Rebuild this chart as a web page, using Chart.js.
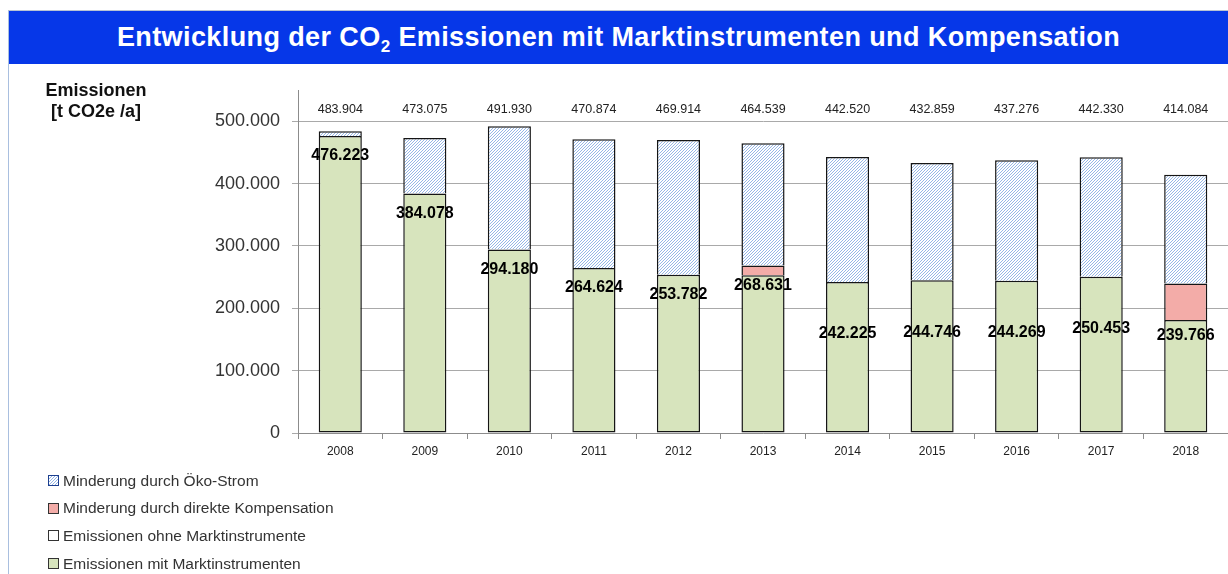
<!DOCTYPE html>
<html lang="de">
<head>
<meta charset="utf-8">
<title>Entwicklung der CO2 Emissionen</title>
<script src="https://cdn.jsdelivr.net/npm/chart.js@4.4.1/dist/chart.umd.min.js"></script>
<style>
    html, body { margin: 0; padding: 0; background: #fff; }
    body {
        width: 1228px; height: 574px; position: relative; overflow: hidden;
        font-family: "Liberation Sans", Arial, sans-serif;
    }
    #frame {
        position: absolute; left: 8px; top: 10px; right: 0; bottom: 0;
        border-left: 1px solid #a9bfdf; border-top: 1px solid #b9c3d3;
    }
    #title {
        position: absolute; left: 9px; top: 11px; right: 0; height: 53px;
        background: #0637e8; color: #fff; font-weight: bold; font-size: 27px;
        line-height: 53px; text-align: center; letter-spacing: 0.4px;
    }
    #title sub { font-size: 17px; vertical-align: -6px; line-height: 0; }
    #chart { position: absolute; left: 0; top: 0; }
    #yTitle {
        position: absolute; left: 30px; top: 80px; width: 132px;
        text-align: center; font-weight: bold; font-size: 18px; line-height: 21px; color: #111;
    }
    #legend { position: absolute; left: 48px; top: 467px; font-size: 15.5px; color: #333; }
    #legend div { height: 27.6px; line-height: 22px; display: flex; align-items: center; }
    #legend span.box {
        display: inline-block; width: 9px; height: 9px; margin-right: 4px;
        border: 1px solid #333; box-sizing: content-box;
    }
</style>
</head>
<body>
<div id="frame"></div>
<div id="title">Entwicklung der CO<sub>2</sub> Emissionen mit Marktinstrumenten und Kompensation</div>
<canvas id="chart" width="1228" height="574"></canvas>
<div id="yTitle">Emissionen<br>[t CO2e /a]</div>
<div id="legend"></div>

<script>
// =============================================
// DATA (t CO2e / a)
// =============================================

const jahre = ["2008", "2009", "2010", "2011", "2012", "2013", "2014", "2015", "2016", "2017", "2018"];

// Emissionen mit Marktinstrumenten (green)
const mitMarkt = [476223, 384078, 294180, 264624, 253782, 253000, 242225, 244746, 244269, 250453, 181000];

// Minderung durch direkte Kompensation (red)
const kompensation = [null, null, null, null, null, 15631, null, null, null, null, 58766];

// Minderung durch Öko-Strom (hatched)
const oekoStrom = [7681, 88997, 197750, 206250, 216132, 195908, 200295, 188113, 193007, 191877, 174318];

// Emissionen ohne Marktinstrumente (totals on top)
const ohneMarkt = [483904, 473075, 491930, 470874, 469914, 464539, 442520, 432859, 437276, 442330, 414084];

const yTicks = [0, 100000, 200000, 300000, 400000, 500000];

// =============================================
// HELPERS
// =============================================

function fmt(v) {
    return String(Math.round(v)).replace(/\B(?=(\d{3})+(?!\d))/g, ".");
}

// light blue diagonal hatch, drawn pixel by pixel
function makeHatch() {
    const c = document.createElement("canvas");
    c.width = 3;
    c.height = 3;
    const g = c.getContext("2d");
    g.fillStyle = "#ffffff";
    g.fillRect(0, 0, 3, 3);
    g.fillStyle = "#96b6e6";
    for (let i = 0; i < 3; i++) {
        g.fillRect(i, 2 - i, 1, 1);
    }
    return c;
}

const hatchCanvas = makeHatch();
const ctx = document.getElementById("chart").getContext("2d");
const hatch = ctx.createPattern(hatchCanvas, "repeat");

const GREEN = "#d7e4bd";
const PINK  = "#f3aca8";
const EDGE  = "#151515";

// =============================================
// VALUE LABELS PLUGIN
// =============================================

const valueLabels = {
    id: "valueLabels",
    afterDatasetsDraw(chart) {
        const c = chart.ctx;
        const xs = chart.scales.x;
        const ys = chart.scales.y;
        c.save();
        c.textAlign = "center";
        c.textBaseline = "middle";

        // totals row above the plot
        c.font = "12.5px 'Liberation Sans', Arial, sans-serif";
        c.fillStyle = "#222";
        ohneMarkt.forEach((v, i) => {
            c.fillText(fmt(v), xs.getPixelForValue(i), chart.chartArea.top + 20);
        });

        // bold labels: emissions incl. compensation
        c.font = "bold 16px 'Liberation Sans', Arial, sans-serif";
        c.fillStyle = "#000";
        mitMarkt.forEach((v, i) => {
            const val = v + (kompensation[i] || 0);
            const top = ys.getPixelForValue(val);
            const off = i < 6 ? 20 : 52;
            c.fillText(fmt(val), xs.getPixelForValue(i), top + off);
        });
        c.restore();
    }
};

// =============================================
// CHART
// =============================================

const datasets = [
    {
        label: "Emissionen mit Marktinstrumenten",
        data: mitMarkt,
        backgroundColor: GREEN,
        borderColor: EDGE,
        borderWidth: 1.5,
        borderSkipped: false,
        stack: "s"
    },
    {
        label: "Minderung durch direkte Kompensation",
        data: kompensation,
        backgroundColor: PINK,
        borderColor: EDGE,
        borderWidth: 1.5,
        borderSkipped: "start",
        stack: "s"
    },
    {
        label: "Minderung durch Öko-Strom",
        data: oekoStrom,
        backgroundColor: hatch,
        borderColor: EDGE,
        borderWidth: 1.5,
        borderSkipped: "start",
        stack: "s"
    },
    {
        type: "line",
        label: "Emissionen ohne Marktinstrumente",
        data: ohneMarkt,
        showLine: false,
        pointRadius: 0,
        backgroundColor: "#ffffff",
        borderColor: "#333"
    }
];

new Chart(ctx, {
    type: "bar",
    data: { labels: jahre, datasets: datasets },
    options: {
        responsive: false,
        animation: false,
        events: [],
        layout: { padding: { left: 0, top: 90, right: 0, bottom: 111 } },
        datasets: { bar: { barPercentage: 0.51, categoryPercentage: 1 } },
        plugins: {
            legend: { display: false },
            tooltip: { enabled: false }
        },
        scales: {
            x: {
                stacked: true,
                grid: {
                    display: true,
                    offset: true,
                    drawOnChartArea: false,
                    tickLength: 6,
                    color: "#8c8c8c"
                },
                border: { color: "#8c8c8c" },
                ticks: {
                    color: "#222",
                    padding: 5,
                    font: { family: "'Liberation Sans', Arial, sans-serif", size: 12 }
                },
                afterFit: s => { s.height = 30; }
            },
            y: {
                stacked: true,
                min: 0,
                max: 550000,
                grid: { color: "#a9a9a9", tickLength: 6 },
                border: { color: "#8c8c8c" },
                ticks: {
                    color: "#333",
                    padding: 12,
                    font: { family: "'Liberation Sans', Arial, sans-serif", size: 18 },
                    callback: v => fmt(v)
                },
                afterBuildTicks: s => { s.ticks = yTicks.map(v => ({ value: v })); },
                afterFit: s => { s.width = 298; }
            }
        }
    },
    plugins: [valueLabels]
});

// =============================================
// LEGEND (order as in the original)
// =============================================

const legendOrder = [2, 1, 3, 0];
const hatchUrl = hatchCanvas.toDataURL();
document.getElementById("legend").innerHTML = legendOrder.map(i => {
    const d = datasets[i];
    const bg = d.backgroundColor === hatch
        ? `background-image:url(${hatchUrl});border-color:#1c3f8f;`
        : `background:${d.backgroundColor};`;
    return `<div><span class="box" style="${bg}"></span>${d.label}</div>`;
}).join("");
</script>
</body>
</html>
